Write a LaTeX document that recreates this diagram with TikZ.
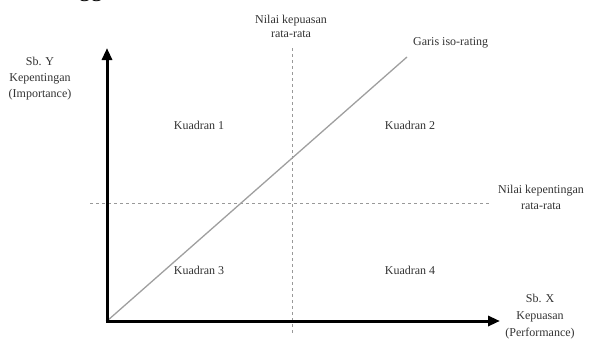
\documentclass[tikz,border=0pt]{standalone}
\usepackage{fontspec}
\setmainfont{Liberation Serif}
\usetikzlibrary{arrows.meta,positioning}

\begin{document}
\begin{tikzpicture}[x=1pt,y=-1pt,
    axisline/.style={line width=3pt,-{Triangle[length=12pt,width=10pt]}},
    meanline/.style={gray!80,line width=1pt,dash pattern=on 3pt off 3pt},
    isoline/.style={gray!75,line width=1.3pt},
    lbl/.style={inner sep=0pt,align=center,text=black!80,
      font=\fontsize{12}{16}\selectfont}]
  \useasboundingbox (0,0) rectangle (590,340);
  \clip (0,0) rectangle (590,340);
  % cut-off line of the page text above
  \node[anchor=base west,inner sep=0pt,font=\fontsize{24}{28}\selectfont] (pagetext) at (48,-4) {hingga 3.};

  % axes
  \coordinate (origin) at (107,321);
  \coordinate (ytip) at (107,48);
  \coordinate (xtip) at (500,321);
  \coordinate (vtop) at (292,48);
  \coordinate (vbot) at (292,333);
  \coordinate (hleft) at (90,203);
  \coordinate (hright) at (490,203);
  \coordinate (isoend) at (407,57);

  \draw[meanline] (vtop) -- (vbot);
  \draw[meanline] (hleft) -- (hright);
  \draw[isoline] (origin) -- (isoend);
  \draw[axisline] ([xshift=-1.5pt]origin) -- (xtip);
  \draw[axisline] ([yshift=1.5pt]origin) -- (ytip);

  % labels
  \node[lbl] (ylabel) at (40,79) {Sb. Y\\Kepentingan\\(Importance)};
  \node[lbl,font=\fontsize{12}{14}\selectfont] (vlabel) at (291,26) {Nilai kepuasan\\rata-rata};
  \node[lbl,anchor=west] (isolabel) at (413,43) {Garis iso-rating};
  \node[lbl] (hlabel) at (541,197) {Nilai kepentingan\\rata-rata};
  \node[lbl,font=\fontsize{12}{17}\selectfont] (xlabel) at (540,317) {Sb. X\\Kepuasan\\(Performance)};

  % quadrants
  \node[lbl] (q1) at (199,125) {Kuadran 1};
  \node[lbl] (q2) at (410,125) {Kuadran 2};
  \node[lbl] (q3) at (199,270) {Kuadran 3};
  \node[lbl] (q4) at (410,270) {Kuadran 4};
\end{tikzpicture}
\end{document}
